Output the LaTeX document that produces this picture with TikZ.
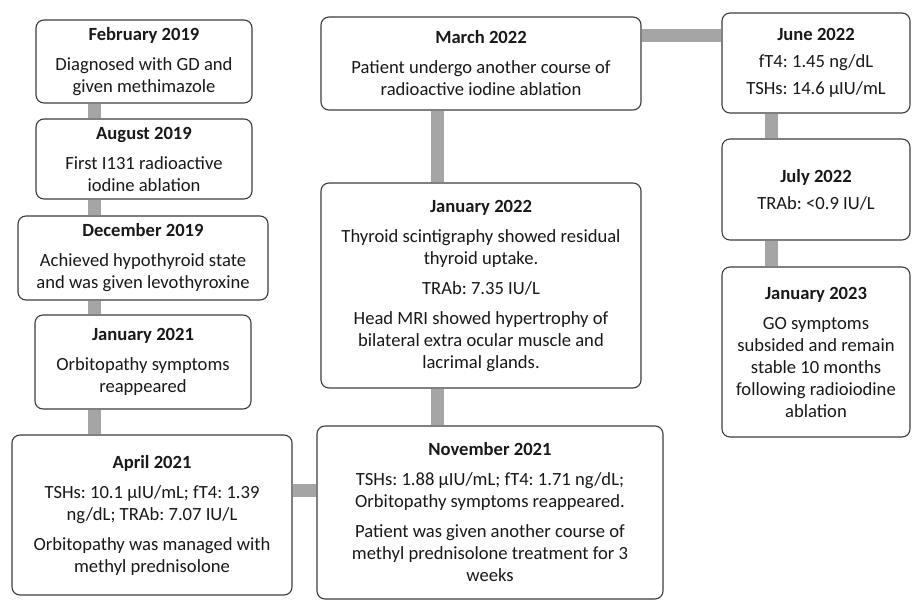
\documentclass[tikz,border=0pt]{standalone}
\usepackage{fontspec}
\setmainfont{Carlito}
\frenchspacing
\definecolor{boxline}{RGB}{60,60,60}
\definecolor{linkgray}{RGB}{165,165,165}
\begin{document}
\begin{tikzpicture}[x=1pt,y=-1pt]
  \tikzstyle{event}=[draw=boxline,fill=white,rounded corners=8pt,line width=1.1pt,align=center,inner sep=0pt,font=\fontsize{18.6}{22}\selectfont,text=black!90];
  \tikzstyle{link}=[line width=13pt,draw=linkgray,shorten <=0.6pt,shorten >=0.6pt];
  \useasboundingbox (0,0) rectangle (912,601);
  %axes of the gray connectors
  \coordinate (axisL) at (94,0);
  \coordinate (axisM) at (437,0);
  \coordinate (axisR) at (771,0);
  \coordinate (axisA) at (0,490);
  \coordinate (axisB) at (0,36);
  %left column
  \node[event,minimum width=216,minimum height=83] (feb19) at (144,61.5) {\textbf{February 2019}\\[8pt]Diagnosed with GD and\\given methimazole};
  \node[event,minimum width=216,minimum height=80] (aug19) at (144,159) {\textbf{August 2019}\\[8pt]First I131 radioactive\\iodine ablation};
  \node[event,minimum width=250,minimum height=84] (dec19) at (143,258) {\textbf{December 2019}\\[8pt]Achieved hypothyroid state\\and was given levothyroxine};
  \node[event,minimum width=216,minimum height=94] (jan21) at (143,362) {\textbf{January 2021}\\[8pt]Orbitopathy symptoms\\reappeared};
  \node[event,minimum width=280,minimum height=160] (apr21) at (152,515) {\textbf{April 2021}\\[8pt]TSHs: 10.1 µIU/mL; fT4: 1.39\\ng/dL; TRAb: 7.07 IU/L\\[8pt]Orbitopathy was managed with\\methyl prednisolone};
  %middle column
  \node[event,minimum width=346,minimum height=173] (nov21) at (490,512.5) {\textbf{November 2021}\\[8pt]TSHs: 1.88 µIU/mL; fT4: 1.71 ng/dL;\\Orbitopathy symptoms reappeared.\\[8pt]Patient was given another course of\\methyl prednisolone treatment for 3\\weeks};
  \node[event,minimum width=320,minimum height=205] (jan22) at (481,285.5) {\textbf{January 2022}\\[8pt]Thyroid scintigraphy showed residual\\thyroid uptake.\\[8pt]TRAb: 7.35 IU/L\\[8pt]Head MRI showed hypertrophy of\\bilateral extra ocular muscle and\\lacrimal glands.};
  \node[event,minimum width=320,minimum height=93] (mar22) at (481,63.5) {\textbf{March 2022}\\[8pt]Patient undergo another course of\\radioactive iodine ablation};
  %right column
  \node[event,minimum width=188,minimum height=100] (jun22) at (816,63) {\textbf{June 2022}\\[5pt]fT4: 1.45 ng/dL\\[5pt]TSHs: 14.6 µIU/mL};
  \node[event,minimum width=188,minimum height=101] (jul22) at (816,189.5) {\textbf{July 2022}\\[5pt]TRAb: <0.9 IU/L};
  \node[event,minimum width=188,minimum height=170] (jan23) at (816,352) {\textbf{January 2023}\\[8pt]GO symptoms\\subsided and remain\\stable 10 months\\following radioiodine\\ablation};
  %connectors
  \draw[link] (feb19.south -| axisL) -- (aug19.north -| axisL);
  \draw[link] (aug19.south -| axisL) -- (dec19.north -| axisL);
  \draw[link] (dec19.south -| axisL) -- (jan21.north -| axisL);
  \draw[link] (jan21.south -| axisL) -- (apr21.north -| axisL);
  \draw[link] (apr21.east |- axisA) -- (nov21.west |- axisA);
  \draw[link] (nov21.north -| axisM) -- (jan22.south -| axisM);
  \draw[link] (jan22.north -| axisM) -- (mar22.south -| axisM);
  \draw[link] (mar22.east |- axisB) -- (jun22.west |- axisB);
  \draw[link] (jun22.south -| axisR) -- (jul22.north -| axisR);
  \draw[link] (jul22.south -| axisR) -- (jan23.north -| axisR);
\end{tikzpicture}
\end{document}
